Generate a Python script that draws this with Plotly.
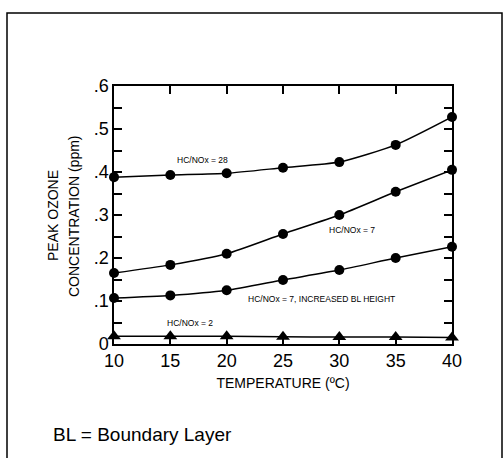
import plotly.graph_objects as go

temps = [10, 15, 20, 25, 30, 35, 40]
hc28 = [0.388, 0.393, 0.397, 0.410, 0.423, 0.463, 0.528]
hc7 = [0.165, 0.184, 0.210, 0.256, 0.300, 0.354, 0.405]
hc7_bl = [0.107, 0.113, 0.125, 0.149, 0.172, 0.200, 0.226]
hc2 = [0.018, 0.018, 0.018, 0.017, 0.016, 0.016, 0.015]

ytickvals = [0, 0.1, 0.2, 0.3, 0.4, 0.5, 0.6]
yticktext = ["0", ".1", ".2", ".3", ".4", ".5", ".6"]
xtickvals = [10, 15, 20, 25, 30, 35, 40]

W, H = 504, 458
L, R, T, B = 114, 452, 86, 344

def px(x):
    return (x - L) / (R - L)

def py(y):
    return (B - y) / (B - T)

fig = go.Figure()
for ys, sym, sz in [(hc28, "circle", 10), (hc7, "circle", 10), (hc7_bl, "circle", 10), (hc2, "triangle-up", 12)]:
    fig.add_trace(go.Scatter(
        x=temps, y=ys, mode="lines+markers",
        line=dict(color="black", width=1.5, shape="spline", smoothing=0.6),
        marker=dict(symbol=sym, size=sz, color="black"),
        showlegend=False, cliponaxis=False,
    ))

font = "Liberation Sans, Arial, sans-serif"
fig.update_layout(
    width=W, height=H,
    margin=dict(l=L, r=W - R, t=T, b=H - B),
    paper_bgcolor="white", plot_bgcolor="white",
    font=dict(family=font, color="black"),
    xaxis=dict(
        range=[10, 40], tickvals=xtickvals, ticks="inside", ticklen=8,
        tickwidth=1.5, tickcolor="black", showline=True, linecolor="black",
        linewidth=1.5, mirror="allticks", showgrid=False, zeroline=False,
        tickfont=dict(size=18), ticklabelstandoff=0,
        title=dict(text="TEMPERATURE (ºC)", font=dict(size=14), standoff=8),
    ),
    yaxis=dict(
        range=[0, 0.6], tickvals=ytickvals, ticktext=yticktext, ticks="inside",
        ticklen=8, tickwidth=1.5, tickcolor="black", showline=True,
        linecolor="black", linewidth=1.5, mirror="allticks", showgrid=False,
        zeroline=False, tickfont=dict(size=18),
        minor=dict(tickvals=[0.05, 0.15, 0.25, 0.35, 0.45, 0.55], ticks="inside",
                   ticklen=8, tickwidth=1.5, tickcolor="black", showgrid=False),
    ),
)

annots = [
    ("HC/NOx = 28", 202, 160, 8.5),
    ("HC/NOx = 7", 352, 230, 8.5),
    ("HC/NOx = 7, INCREASED BL HEIGHT", 321, 299, 8.5),
    ("HC/NOx = 2", 190, 323, 8.5),
]
for text, x, y, s in annots:
    fig.add_annotation(text=text, x=px(x), y=py(y), xref="paper", yref="paper",
                       showarrow=False, font=dict(size=s), xanchor="center", yanchor="middle")

fig.add_annotation(text="PEAK OZONE", x=px(53), y=py(216), xref="paper", yref="paper",
                   showarrow=False, textangle=-90, font=dict(size=14),
                   xanchor="center", yanchor="middle")
fig.add_annotation(text="CONCENTRATION (ppm)", x=px(74), y=py(216), xref="paper", yref="paper",
                   showarrow=False, textangle=-90, font=dict(size=14),
                   xanchor="center", yanchor="middle")
fig.add_annotation(text="BL = Boundary Layer", x=px(51), y=py(434), xref="paper", yref="paper",
                   showarrow=False, font=dict(size=19), xanchor="left", yanchor="middle")

fig.add_shape(type="rect", xref="paper", yref="paper",
              x0=px(7), x1=px(502), y0=py(475), y1=py(13),
              line=dict(color="black", width=1.5), layer="below")

fig.write_html("out.html")
